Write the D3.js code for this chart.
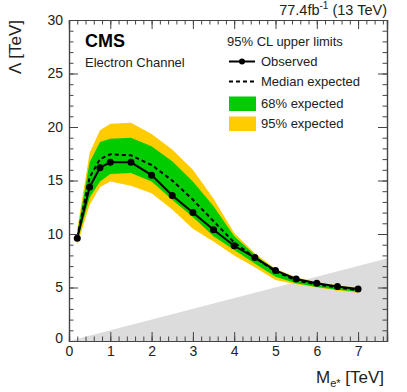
<!DOCTYPE html>
<html>
<head>
<meta charset="utf-8">
<script src="https://cdn.jsdelivr.net/npm/d3@7"></script>
<style>
  body { margin: 0; background: #fff; }
  svg { font-family: "Liberation Sans", Arial, sans-serif; }
</style>
</head>
<body>
<div id="main"></div>
<script>
// Datos (M en TeV, Lambda en TeV)
var mass     = [0.2, 0.5, 0.75, 1.0, 1.5, 2.0, 2.5, 3.0, 3.5, 4.0, 4.5, 5.0, 5.5, 6.0, 6.5, 7.0];
var observed = [9.6, 14.4, 16.2, 16.7, 16.7, 15.5, 13.6, 12.0, 10.4, 8.9, 7.8, 6.6, 5.8, 5.4, 5.1, 4.85];
var expected = [9.7, 15.3, 17.0, 17.45, 17.35, 16.45, 15.0, 13.2, 11.2, 9.2, 7.8, 6.5, 5.65, 5.3, 5.0, 4.75];
var exp68Lo  = [9.3, 13.4, 14.9, 15.6, 15.7, 14.9, 13.2, 11.6, 9.8, 8.5, 7.25, 6.0, 5.4, 5.05, 4.8, 4.6];
var exp68Hi  = [10.1, 16.7, 18.6, 18.9, 19.0, 18.2, 16.8, 14.9, 12.6, 9.8, 8.05, 6.6, 5.85, 5.4, 5.1, 4.85];
var exp95Lo  = [9.0, 12.7, 14.4, 14.9, 14.5, 13.8, 12.3, 10.5, 9.3, 8.0, 6.9, 5.7, 5.3, 5.0, 4.7, 4.5];
var exp95Hi  = [10.5, 17.6, 19.7, 20.3, 20.4, 19.35, 17.9, 16.0, 13.3, 10.1, 8.2, 6.75, 5.95, 5.5, 5.2, 4.95];

var xMajor = [0, 1, 2, 3, 4, 5, 6, 7];
var yMajor = [0, 5, 10, 15, 20, 25, 30];
var xMinor = d3.range(0, 7.71, 0.2);
var yMinor = d3.range(0, 30.1, 1);

var legendItems = ["Observed", "Median expected", "68% expected", "95% expected"];

// Constantes de dibujo
var totalWidth = 407;
var totalHeight = 392;
var plotLeft = 69, plotRight = 387, plotTop = 20, plotBottom = 341;
var xMax = 7.7, yMax = 30;

var svg = d3.select("#main").append("svg")
  .attr("width", totalWidth)
  .attr("height", totalHeight);

var x = d3.scaleLinear().domain([0, xMax]).range([plotLeft, plotRight]);
var y = d3.scaleLinear().domain([0, yMax]).range([plotBottom, plotTop]);

// Región excluida Lambda < M
svg.append("path")
  .attr("d", d3.line()([[x(0), y(0)], [x(xMax), y(xMax)], [x(xMax), y(0)]]) + "Z")
  .attr("fill", "#dcdcdc");

var area = function(lo, hi) {
  return d3.area()
    .x(function(d, i) { return x(mass[i]); })
    .y0(function(d, i) { return y(lo[i]); })
    .y1(function(d, i) { return y(hi[i]); })(mass);
};

svg.append("path").attr("d", area(exp95Lo, exp95Hi)).attr("fill", "#ffcc00");
svg.append("path").attr("d", area(exp68Lo, exp68Hi)).attr("fill", "#00cc00");

var line = function(vals) {
  return d3.line()
    .x(function(d, i) { return x(mass[i]); })
    .y(function(d, i) { return y(vals[i]); })(mass);
};

svg.append("path").attr("d", line(expected))
  .attr("fill", "none").attr("stroke", "#000")
  .attr("stroke-width", 2).attr("stroke-dasharray", "4 3");

svg.append("path").attr("d", line(observed))
  .attr("fill", "none").attr("stroke", "#000").attr("stroke-width", 2);

svg.selectAll("circle.obs").data(mass).enter().append("circle")
  .attr("class", "obs")
  .attr("cx", function(d) { return x(d); })
  .attr("cy", function(d, i) { return y(observed[i]); })
  .attr("r", 3.5)
  .attr("fill", "#000");

// Ejes con marcas hacia dentro en los cuatro lados
function dibujarEje(axis, tx, ty, labels) {
  var g = svg.append("g").attr("transform", "translate(" + tx + "," + ty + ")").call(axis);
  g.select(".domain").attr("stroke", "#444").attr("stroke-width", 1.2);
  g.selectAll(".tick line").attr("stroke", "#444");
  g.selectAll("text").attr("font-size", 14).attr("fill", "#222")
    .attr("font-family", "Liberation Sans, Arial, sans-serif");
  if (!labels) g.selectAll("text").remove();
  return g;
}

dibujarEje(d3.axisBottom(x).tickValues(xMinor).tickSize(-4.5).tickFormat(""), 0, plotBottom, false);
dibujarEje(d3.axisBottom(x).tickValues(xMajor).tickSize(-9).tickPadding(5).tickFormat(d3.format("d")), 0, plotBottom, true);
dibujarEje(d3.axisTop(x).tickValues(xMinor).tickSize(-4.5).tickFormat(""), 0, plotTop, false);
dibujarEje(d3.axisTop(x).tickValues(xMajor).tickSize(-9).tickFormat(""), 0, plotTop, false);

dibujarEje(d3.axisLeft(y).tickValues(yMinor).tickSize(-4.5).tickFormat(""), plotLeft, 0, false);
var gy = dibujarEje(d3.axisLeft(y).tickValues(yMajor).tickSize(-9).tickPadding(6).tickFormat(d3.format("d")), plotLeft, 0, true);
gy.selectAll(".tick").filter(function(d) { return d === 0; }).select("text").attr("y", -3);
dibujarEje(d3.axisRight(y).tickValues(yMinor).tickSize(-4.5).tickFormat(""), plotRight, 0, false);
dibujarEje(d3.axisRight(y).tickValues(yMajor).tickSize(-9).tickFormat(""), plotRight, 0, false);

// Títulos de ejes
var xt = svg.append("text")
  .attr("x", 384).attr("y", 383)
  .attr("text-anchor", "end").attr("font-size", 17).attr("fill", "#222");
xt.append("tspan").text("M");
xt.append("tspan").attr("font-size", 11).attr("dy", 4).text("e*");
xt.append("tspan").attr("dy", -4).text(" [TeV]");

svg.append("text")
  .attr("transform", "translate(21," + plotTop + ") rotate(-90)")
  .attr("text-anchor", "end").attr("font-size", 17).attr("fill", "#222")
  .text("Λ [TeV]");

// Luminosidad
var lumi = svg.append("text")
  .attr("x", plotRight).attr("y", 15)
  .attr("text-anchor", "end").attr("font-size", 14.5).attr("fill", "#222");
lumi.append("tspan").text("77.4fb");
lumi.append("tspan").attr("font-size", 10).attr("dy", -6).text("-1");
lumi.append("tspan").attr("dy", 6).text(" (13 TeV)");

svg.append("text").attr("x", 85).attr("y", 47)
  .attr("font-size", 18).attr("font-weight", "bold").attr("fill", "#000").text("CMS");
svg.append("text").attr("x", 85).attr("y", 67)
  .attr("font-size", 13).attr("fill", "#222").text("Electron Channel");

// Leyenda
svg.append("text").attr("x", 227).attr("y", 46)
  .attr("font-size", 13).attr("fill", "#222").text("95% CL upper limits");

var rowY = [66, 86, 107.5, 127.5];
svg.selectAll("text.leg").data(legendItems).enter().append("text")
  .attr("class", "leg")
  .attr("x", 261)
  .attr("y", function(d, i) { return rowY[i]; })
  .attr("font-size", 13).attr("fill", "#222")
  .text(function(d) { return d; });

svg.append("line").attr("x1", 229).attr("x2", 255).attr("y1", rowY[0] - 4.5).attr("y2", rowY[0] - 4.5)
  .attr("stroke", "#000").attr("stroke-width", 2);
svg.append("circle").attr("cx", 242).attr("cy", rowY[0] - 4.5).attr("r", 3).attr("fill", "#000");
svg.append("line").attr("x1", 229).attr("x2", 255).attr("y1", rowY[1] - 4.5).attr("y2", rowY[1] - 4.5)
  .attr("stroke", "#000").attr("stroke-width", 2).attr("stroke-dasharray", "4 3");
svg.append("rect").attr("x", 229).attr("y", rowY[2] - 11).attr("width", 27).attr("height", 14.5)
  .attr("fill", "#00cc00");
svg.append("rect").attr("x", 229).attr("y", rowY[3] - 11).attr("width", 27).attr("height", 14.5)
  .attr("fill", "#ffcc00");
</script>
</body>
</html>
